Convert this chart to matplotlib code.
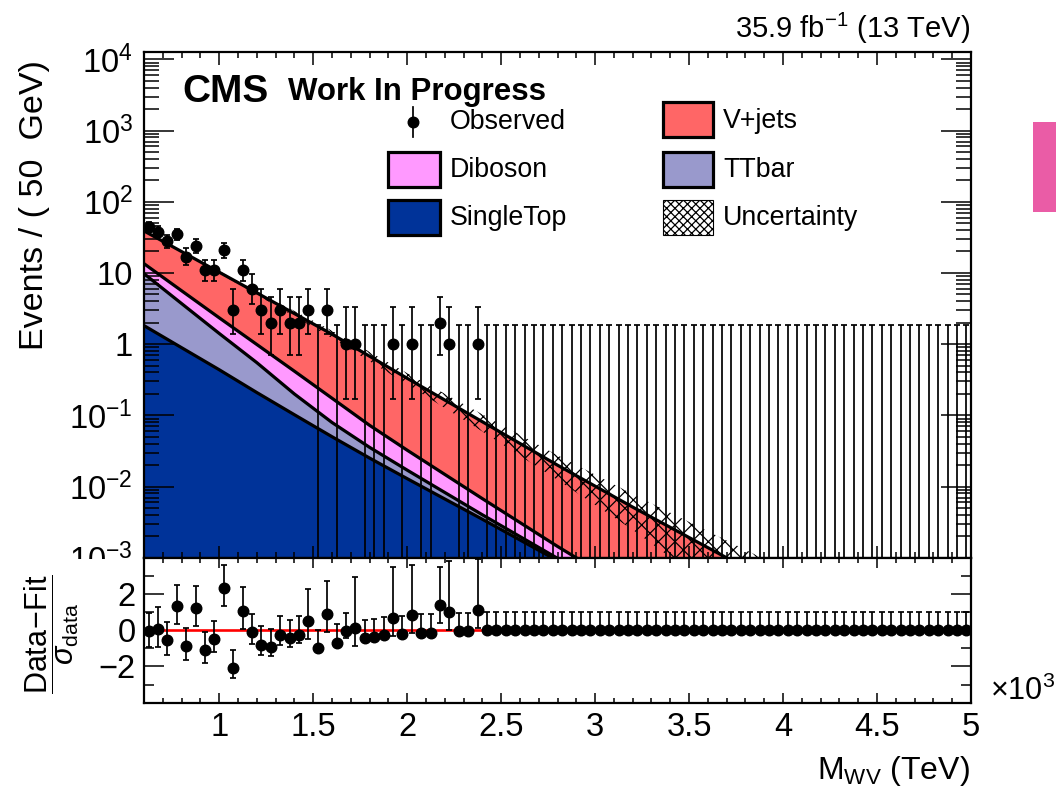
import numpy as np
import matplotlib
matplotlib.use("Agg")
import matplotlib.pyplot as plt
from matplotlib.patches import Rectangle
from matplotlib.lines import Line2D
from matplotlib.ticker import FixedLocator, MultipleLocator, FormatStrFormatter

# ---------------- data ----------------
bin_width = 0.05                      # TeV  (50 GeV bins)
mass_lo, mass_hi = 0.6, 5.0

# observed events per bin, 0.6 ... 2.4 TeV, then empty bins up to 5 TeV
observed_head = [44, 38, 28, 35, 17, 24, 11, 11, 21, 3, 11, 6, 3, 2, 3, 2, 2, 3,
                 0, 3, 0, 1, 1, 0, 0, 0, 1, 0, 1, 0, 0, 2, 1, 0, 0, 1]
observed = np.array(observed_head + [0] * 52)

# (data - fit) / sigma_data per bin
pull_head = [-0.05, 0.09, -0.55, 1.32, -0.86, 1.23, -1.10, -0.49, 2.35, -2.07,
             1.04, -0.09, -0.79, -0.92, -0.24, -0.42, -0.24, 0.49, -0.97, 0.91,
             -0.68, -0.05, 0.13, -0.42, -0.37, -0.27, 0.70, -0.22, 0.82, -0.13,
             -0.13, 1.41, 1.01, -0.05, -0.05, 1.14]
pulls = np.array(pull_head + [0.0] * 52)

# fitted background shapes (events / 50 GeV) sampled along the mass axis
curve_mass = [0.6, 0.8, 1.0, 1.2, 1.4, 1.6, 1.8, 2.0, 2.4, 2.8, 3.2, 3.6, 4.0, 5.0]
singletop = [1.82, 0.891, 0.437, 0.209, 0.102, 0.0501, 0.0251, 0.0129, 0.00347,
             9.1e-4, 2.5e-4, 7.1e-5, 2.0e-5, 1.0e-6]
ttbar = [7.95, 2.82, 0.976, 0.341, 0.0975, 0.0293, 0.0104, 0.0041, 5.4e-4,
         7.1e-5, 9.4e-6, 1.2e-6, 1.6e-7, 1.0e-9]
diboson = [3.72, 1.905, 0.931, 0.439, 0.2175, 0.0946, 0.0369, 0.0154, 0.00275,
           4.6e-4, 7.0e-5, 1.2e-5, 2.0e-6, 3.0e-8]
vjets = [25.4, 14.33, 7.89, 4.26, 2.27, 1.206, 0.604, 0.299, 0.0745, 0.0185,
         0.00481, 0.0013, 3.5e-4, 1.6e-5]
rel_uncert = [0.01, 0.02, 0.04, 0.06, 0.09, 0.12, 0.15, 0.18, 0.27, 0.38, 0.52,
              0.70, 0.90, 0.95]

# ---------------- style ----------------
plt.rcParams["font.family"] = ["Liberation Sans", "DejaVu Sans"]
plt.rcParams["mathtext.fontset"] = "custom"
plt.rcParams["mathtext.rm"] = "Liberation Sans"
plt.rcParams["mathtext.it"] = "Liberation Sans:italic"
plt.rcParams["mathtext.bf"] = "Liberation Sans:bold"
plt.rcParams["hatch.color"] = "black"
plt.rcParams["hatch.linewidth"] = 0.9
plt.rcParams["axes.linewidth"] = 1.6

red = "#FF6666"
pink = "#FF99FF"
lavender = "#9999CC"
navy = "#003399"

W, H = 1056, 787
fig = plt.figure(figsize=(W / 100, H / 100), dpi=100)

x_left, x_right = 144, 971
y_top, y_mid, y_bot = 51.7, 557.7, 702.7
ax = fig.add_axes([x_left / W, 1 - y_mid / H, (x_right - x_left) / W, (y_mid - y_top) / H])
rax = fig.add_axes([x_left / W, 1 - y_bot / H, (x_right - x_left) / W, (y_bot - y_mid) / H])


def fig_box(x0, y0, x1, y1, **kw):
    """rectangle given in figure pixels (origin top-left)"""
    r = Rectangle((x0 / W, 1 - y1 / H), (x1 - x0) / W, (y1 - y0) / H,
                  transform=fig.transFigure, **kw)
    fig.add_artist(r)
    return r


def poisson_errors(n):
    n = np.asarray(n, float)
    nn = np.maximum(n, 1)
    up = np.sqrt(n + 0.75) + 1.0
    lo = np.where(n > 0, n - n * (1 - 1 / (9 * nn) - 1 / (3 * np.sqrt(nn))) ** 3, 0.0)
    return lo, up


# ---------------- top panel: stacked fit ----------------
cm = np.array(curve_mass)
st = np.array(singletop)
s_tt = st + np.array(ttbar)
s_db = s_tt + np.array(diboson)
s_all = s_db + np.array(vjets)
floor = 1e-7

for top, col in [(s_all, red), (s_db, pink), (s_tt, lavender), (st, navy)]:
    ax.fill_between(cm, floor, top, color=col, lw=0, zorder=1)

unc = np.array(rel_uncert)
ax.fill_between(cm, s_all * (1 - unc), s_all * (1 + unc), facecolor="none",
                edgecolor="black", hatch="xx", lw=0, zorder=2)

for top in [s_all, s_db, s_tt, st]:
    ax.plot(cm, top, color="black", lw=2.3, zorder=3)

centers = mass_lo + bin_width * (np.arange(len(observed)) + 0.5)
err_lo, err_up = poisson_errors(observed)
y_obs = np.where(observed > 0, observed, 1e-6).astype(float)
yerr_lo = np.where(observed > 0, err_lo, 0.0)
ax.errorbar(centers, y_obs, yerr=[yerr_lo, err_up], fmt="o", color="black",
            ms=7.6, elinewidth=1.25, capsize=2.5, capthick=1.25, zorder=5)

ax.set_yscale("log")
ax.set_xlim(mass_lo, mass_hi)
ax.set_ylim(1e-3, 1.28e4)
ax.yaxis.set_major_locator(FixedLocator([1e-3, 1e-2, 1e-1, 1, 10, 1e2, 1e3, 1e4]))
ax.set_yticklabels([r"10$^{-3}$", r"10$^{-2}$", r"10$^{-1}$", "1", "10",
                    r"10$^{2}$", r"10$^{3}$", r"10$^{4}$"])
minors = [m * 10.0 ** e for e in range(-3, 5) for m in range(2, 10)]
ax.yaxis.set_minor_locator(FixedLocator(minors))
ax.yaxis.set_minor_formatter(plt.NullFormatter())
ax.xaxis.set_major_locator(MultipleLocator(0.5))
ax.xaxis.set_minor_locator(MultipleLocator(0.1))
ax.tick_params(axis="both", which="both", direction="in", top=True, right=True,
               labelbottom=False, labelsize=23.5, width=1.1)
ax.tick_params(axis="y", which="major", length=21.5, pad=8)
ax.tick_params(axis="y", which="minor", length=10.8)
ax.tick_params(axis="x", which="major", length=9)
ax.tick_params(axis="x", which="minor", length=4.5)

# ---------------- pull panel ----------------
pos = pulls >= 0
has = observed > 0
p_up = np.where(has, np.where(pos, err_up / np.where(has, err_lo, 1), 1.0), 1.0)
p_dn = np.where(has, np.where(pos, 1.0, err_lo / err_up), 0.0)
rax.axhline(0, color="red", lw=1.9, zorder=1)
rax.errorbar(centers, pulls, yerr=[p_dn, p_up], fmt="o", color="black", ms=7.6,
             elinewidth=1.25, capsize=2.5, capthick=1.25, zorder=3)
rax.set_xlim(mass_lo, mass_hi)
rax.set_ylim(-4, 4)
rax.yaxis.set_major_locator(FixedLocator([-2, 0, 2]))
rax.set_yticklabels(["\u22122", "0", "2"])
rax.yaxis.set_minor_locator(FixedLocator([-3, -1, 1, 3]))
rax.xaxis.set_major_locator(MultipleLocator(0.5))
rax.xaxis.set_minor_locator(MultipleLocator(0.1))
rax.xaxis.set_major_formatter(FormatStrFormatter("%g"))
rax.tick_params(axis="both", which="both", direction="in", top=True, right=True,
                labelsize=23.5, width=1.1)
rax.tick_params(axis="y", which="major", length=14.4, pad=6)
rax.tick_params(axis="y", which="minor", length=7.2)
rax.tick_params(axis="x", which="major", length=7.2, pad=7)
rax.tick_params(axis="x", which="minor", length=3.6)

# lower pad hides the bottom half of the 10^-3 label
fig_box(66, y_mid + 1, x_left - 2, 574, fc="white", ec="none", zorder=5)

# ---------------- legend ----------------
lw_box = 2.3
fig_box(388, 152, 440, 187, fc=pink, ec="black", lw=lw_box)
fig_box(388, 200, 440, 235, fc=navy, ec="black", lw=lw_box)
fig_box(663, 102, 713, 137, fc=red, ec="black", lw=lw_box)
fig_box(663, 152, 713, 187, fc=lavender, ec="black", lw=lw_box)
fig_box(663, 200, 713, 235, fc="none", ec="black", lw=0.8, hatch="xxxx")
fig.add_artist(Line2D([413 / W] * 2, [1 - 107 / H, 1 - 137 / H], color="black",
                      lw=1.25, transform=fig.transFigure))
fig.add_artist(Line2D([413 / W], [1 - 122 / H], marker="o", ms=7.6, color="black",
                      transform=fig.transFigure))
for label, x, y in [("Observed", 450, 122), ("Diboson", 450, 170), ("SingleTop", 450, 218),
                    ("V+jets", 723, 121), ("TTbar", 723, 170), ("Uncertainty", 723, 218)]:
    fig.text(x / W, 1 - y / H, label, fontsize=19.3, va="center", ha="left")

# ---------------- labels ----------------
fig.text(182 / W, 1 - 102 / H, "CMS", fontsize=28, weight="bold", va="baseline")
fig.text(288 / W, 1 - 100 / H, "Work In Progress", fontsize=22.5, weight="bold",
         va="baseline")
fig.text(970 / W, 1 - 38 / H, r"35.9 fb$^{-1}$ (13 TeV)", fontsize=21, ha="right",
         va="baseline")
fig.text(35 / W, 1 - 205 / H, "Events / ( 50  GeV)", fontsize=24.5, rotation=90,
         ha="center", va="center")
fig.text(52 / W, 1 - 634 / H, r"$\dfrac{\mathrm{Data\!-\!Fit}}{\sigma_{\mathrm{data}}}$",
         fontsize=22, rotation=90, ha="center", va="center")
fig.text(990 / W, 1 - 691 / H, r"$\times$10$^{3}$", fontsize=22, ha="left", va="center")
fig.text(970 / W, 1 - 771 / H, r"M$_{\mathrm{WV}}$ (TeV)", fontsize=23, ha="right",
         va="center")

# slide remnant on the right edge
fig_box(1033, 122, 1057, 212, fc="#EA5CA6", ec="none")

fig.savefig("out.png", dpi=100)
